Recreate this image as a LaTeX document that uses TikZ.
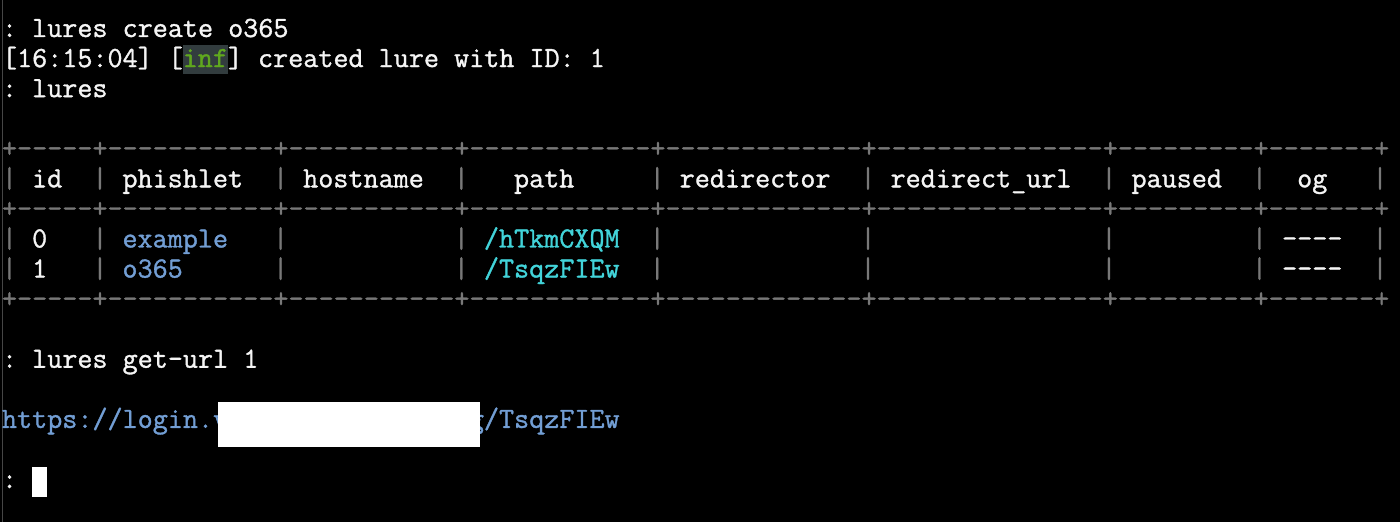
\documentclass[tikz,border=0pt]{standalone}
\usepackage{fontspec}
\setmonofont{Latin Modern Mono}[FakeBold=1.2]
\usepackage{tikz}
\usetikzlibrary{positioning}

\definecolor{termwhite}{RGB}{245,245,245}
\definecolor{termgray}{RGB}{120,120,120}
\definecolor{termblue}{RGB}{114,158,212}
\definecolor{termcyan}{RGB}{66,212,218}
\definecolor{infgreen}{RGB}{96,168,30}
\definecolor{infback}{RGB}{50,60,62}
\definecolor{edgegray}{RGB}{70,70,70}

\begin{document}
\begin{tikzpicture}[x=0.5pt, y=-0.5pt,
    txt/.style={anchor=base west, inner sep=0pt, outer sep=0pt, text=termwhite,
                font=\ttfamily\fontsize{14.64}{17}\selectfont},
    bord/.style={txt, text=termgray},
    lnk/.style={txt, text=termblue},
    pth/.style={txt, text=termcyan}]
    \fill[black] (0,0) rectangle (1400,522);
    \useasboundingbox (0,0) rectangle (1400,522);
    \draw[edgegray, line width=0.5pt] (2.5,0) -- (2.5,522);

    \node[txt] (cmda) at (2, 37) {: lures create o365};
    \fill[infback] (182.7,45) rectangle (228,74);
    \node[txt] (tsa) at (2, 37+30.07) {[16:15:04] [};
    \node[txt, text=infgreen] (inf) at (2+15.06*12, 37+30.07) {inf};
    \node[txt] (msga) at (2+15.06*15, 37+30.07) {] created lure with ID: 1};
    \node[txt] (cmdb) at (2, 37+30.07*2) {: lures};

    % table
    \foreach \r in {4,6,9}
        \node[bord] (rule\r) at (2, 37+30.07*\r)
        {+-----+-----------+-----------+------------+-------------+---------------+---------+-------+};
    \foreach \r in {5,7,8}
        \foreach \c in {0,6,18,30,43,57,73,83,91}
            \node[bord] (pipe\r-\c) at (2+15.06*\c, 37+30.07*\r) {|};

    \node[txt] (hid) at (2+15.06*2, 37+30.07*5) {id};
    \node[txt] (hphish) at (2+15.06*8, 37+30.07*5) {phishlet};
    \node[txt] (hhost) at (2+15.06*20, 37+30.07*5) {hostname};
    \node[txt] (hpath) at (2+15.06*34, 37+30.07*5) {path};
    \node[txt] (hredir) at (2+15.06*45, 37+30.07*5) {redirector};
    \node[txt] (hrurl) at (2+15.06*59, 37+30.07*5) {redirect\_url};
    \node[txt] (hpaused) at (2+15.06*75, 37+30.07*5) {paused};
    \node[txt] (hog) at (2+15.06*86, 37+30.07*5) {og};

    \node[txt] (ida) at (2+15.06*2, 37+30.07*7) {0};
    \node[lnk] (phisha) at (2+15.06*8, 37+30.07*7) {example};
    \node[pth] (patha) at (2+15.06*32, 37+30.07*7) {/hTkmCXQM};
    \node[txt] (oga) at (2+15.06*85, 37+30.07*7) {----};
    \node[txt] (idb) at (2+15.06*2, 37+30.07*8) {1};
    \node[lnk] (phishb) at (2+15.06*8, 37+30.07*8) {o365};
    \node[pth] (pathb) at (2+15.06*32, 37+30.07*8) {/TsqzFIEw};
    \node[txt] (ogb) at (2+15.06*85, 37+30.07*8) {----};

    \node[txt] (cmdc) at (2, 37+30.07*11) {: lures get-url 1};
    \node[lnk] (urla) at (2, 37+30.07*13) {https://login.v};
    \node[lnk] (urlb) at (2+15.06*31, 37+30.07*13) {g/TsqzFIEw};
    \fill[white] (218,402) rectangle (480,447);

    \node[txt] (prompt) at (2, 37+30.07*15) {:};
    \fill[white] (32,467) rectangle (47,497);
\end{tikzpicture}
\end{document}
